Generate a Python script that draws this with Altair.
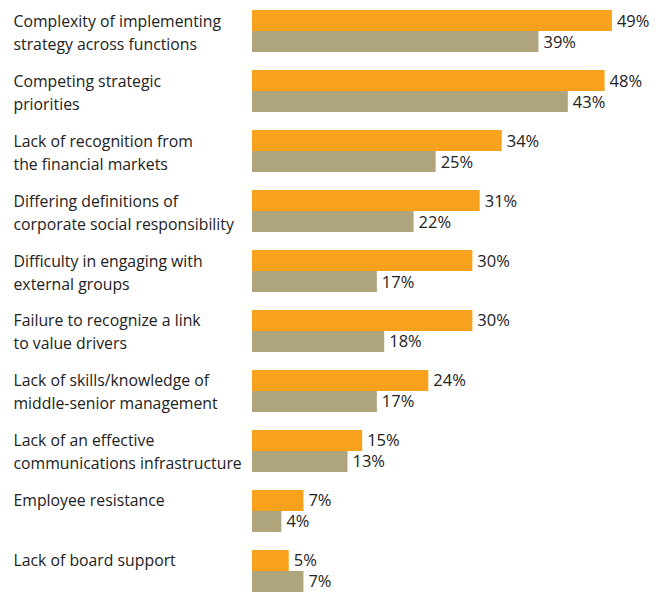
import altair as alt
import pandas as pd

categories = [
    "Complexity of implementing|strategy across functions",
    "Competing strategic|priorities",
    "Lack of recognition from|the financial markets",
    "Differing definitions of|corporate social responsibility",
    "Difficulty in engaging with|external groups",
    "Failure to recognize a link|to value drivers",
    "Lack of skills/knowledge of|middle-senior management",
    "Lack of an effective|communications  infrastructure",
    "Employee resistance",
    "Lack of board support",
]
series_a = [49, 48, 34, 31, 30, 30, 24, 15, 7, 5]
series_b = [39, 43, 25, 22, 17, 18, 17, 13, 4, 7]
series_names = ["A", "B"]
colors = ["#F7A11D", "#AFA57C"]

rows = []
for c, a, b in zip(categories, series_a, series_b):
    rows.append({"category": c, "series": "A", "value": a})
    rows.append({"category": c, "series": "B", "value": b})
df = pd.DataFrame(rows)

FONT = "Open Sans"

y_enc = alt.Y(
    "category:N",
    sort=categories,
    scale=alt.Scale(paddingInner=0.3, paddingOuter=0.035),
    axis=alt.Axis(
        title=None, domain=False, ticks=False, tickSize=0,
        labelAlign="left", labelPadding=239, labelBaseline="middle",
        labelOffset=-9.5,
        labelExpr="split(datum.label, '|')", labelLineHeight=23,
        labelFont=FONT, labelFontSize=15.8, labelColor="#222222",
        labelLimit=260,
    ),
)
x_enc = alt.X("value:Q", scale=alt.Scale(domain=[0, 55], nice=False), axis=None)
yoff = alt.YOffset("series:N", sort=series_names)

base = alt.Chart(df).encode(y=y_enc, x=x_enc, yOffset=yoff)

bars = base.mark_bar().encode(
    color=alt.Color("series:N", scale=alt.Scale(domain=series_names, range=colors), legend=None)
)
labels = base.mark_text(
    align="left", baseline="middle", dx=5, dy=1, font=FONT, fontSize=16.5, color="#222222"
).encode(text=alt.Text("label:N")).transform_calculate(label="datum.value + '%'")

chart = (
    (bars + labels)
    .properties(width=404, height=586, padding={"left": 5, "top": 0, "right": 0, "bottom": 0})
    .configure_view(stroke=None)
)
chart.save("out.html", embed_options={"renderer": "svg", "actions": False})
